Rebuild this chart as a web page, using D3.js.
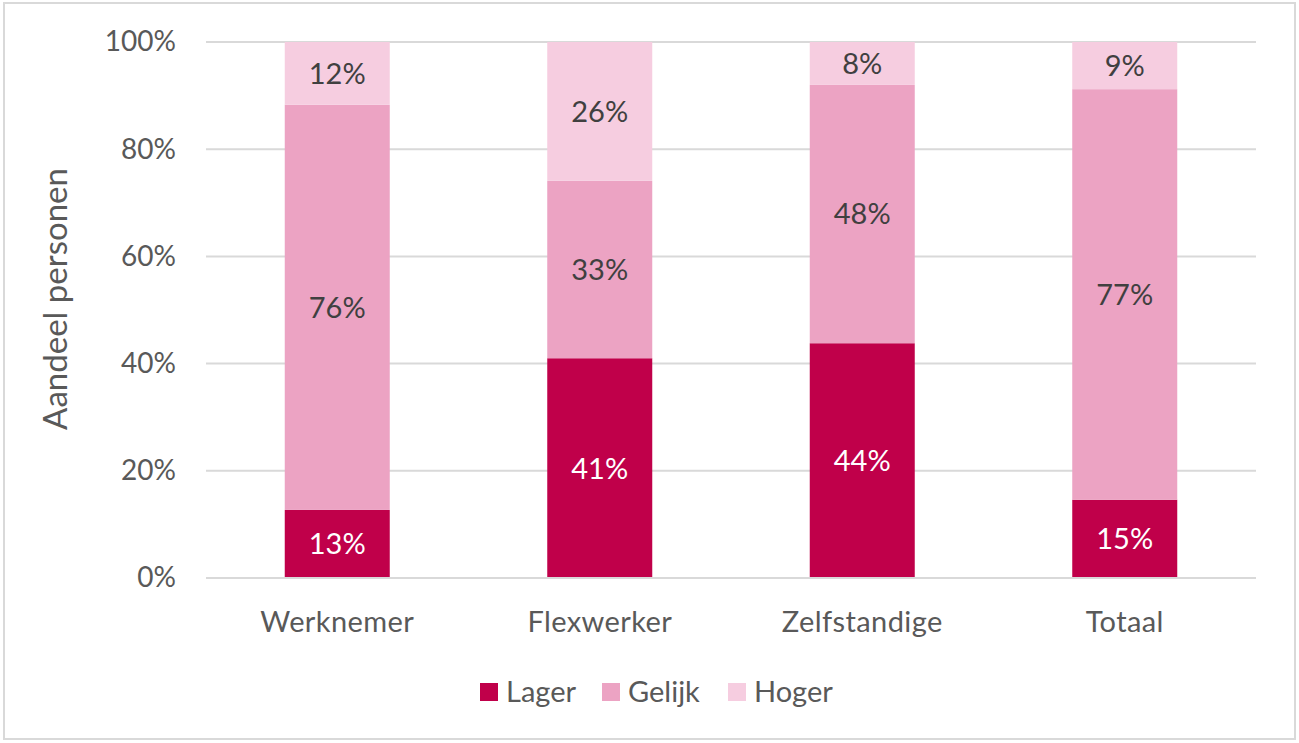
<!DOCTYPE html>
<html><head><meta charset="utf-8">
<script src="https://cdn.jsdelivr.net/npm/d3@7"></script>
<style>
body{margin:0;background:#fff;}
svg text{font-family:Lato,"Open Sans",sans-serif;}
</style></head>
<body><svg id="c" width="1299" height="743"></svg>
<script>
const categories = ["Werknemer","Flexwerker","Zelfstandige","Totaal"];
const seriesNames = ["Lager","Gelijk","Hoger"];
const lager  = [12.7, 41.0, 43.8, 14.6];
const gelijk = [75.6, 33.1, 48.2, 76.6];
const hoger  = [11.7, 25.9, 8.0, 8.8];
const yTicks = [0,20,40,60,80,100];
const colors = ["#C0004A","#ECA3C3","#F6CDE0"];
const labelColors = ["#FFFFFF","#404040","#404040"];

const rows = categories.map((c,i)=>({cat:c, Lager:lager[i], Gelijk:gelijk[i], Hoger:hoger[i]}));
const svg = d3.select("#c");
svg.append("rect").attr("x",4).attr("y",3).attr("width",1291).attr("height",736)
  .attr("fill","#fff").attr("stroke","#D9D9D9").attr("stroke-width",2);

const x = d3.scaleBand().domain(categories).range([206,1256]).paddingInner(0.6).paddingOuter(0.3);
const y = d3.scaleLinear().domain([0,100]).range([578,42]);

// gridlines
svg.append("g").selectAll("line").data(yTicks.filter(t=>t>0)).join("line")
  .attr("x1",206).attr("x2",1256).attr("y1",d=>y(d)).attr("y2",d=>y(d))
  .attr("stroke","#D9D9D9").attr("stroke-width",2);

// y axis labels
const yAxis = d3.axisLeft(y).tickValues(yTicks).tickFormat(d=>d+"%").tickSize(0).tickPadding(0);
const ya = svg.append("g").attr("transform","translate(176,0)").call(yAxis);
ya.select(".domain").remove();
ya.selectAll("text").attr("font-size",28).attr("fill","#595959").attr("font-family","Lato");

const stack = d3.stack().keys(seriesNames)(rows);
const g = svg.append("g");
stack.forEach((s,si)=>{
  g.selectAll(null).data(s).join("rect")
    .attr("x",d=>x(d.data.cat)).attr("width",x.bandwidth())
    .attr("y",d=>y(d[1])).attr("height",d=>y(d[0])-y(d[1]))
    .attr("fill",colors[si]);
  g.selectAll(null).data(s).join("text")
    .attr("x",d=>x(d.data.cat)+x.bandwidth()/2)
    .attr("y",d=>(y(d[0])+y(d[1]))/2)
    .attr("dy","0.36em").attr("text-anchor","middle")
    .attr("font-size",29).attr("fill",labelColors[si])
    .text(d=>Math.round(d[1]-d[0])+"%");
});

// x axis
svg.append("line").attr("x1",206).attr("x2",1256).attr("y1",y(0)).attr("y2",y(0))
  .attr("stroke","#D9D9D9").attr("stroke-width",2);
const xAxis = d3.axisBottom(x).tickSize(0).tickPadding(0);
const xa = svg.append("g").attr("transform","translate(0,632)").call(xAxis);
xa.select(".domain").remove();
xa.selectAll("text").attr("font-size",29).attr("letter-spacing","0.4px").attr("fill","#595959").attr("font-family","Lato").attr("dy","0");

// y title
svg.append("text").attr("transform","translate(67,299) rotate(-90)")
  .attr("text-anchor","middle").attr("font-size",33).attr("fill","#595959")
  .text("Aandeel personen");

// legend
const legX = [480,602,728];
const lg = svg.append("g");
seriesNames.forEach((n,i)=>{
  lg.append("rect").attr("x",legX[i]).attr("y",683).attr("width",18).attr("height",18).attr("fill",colors[i]);
  lg.append("text").attr("x",legX[i]+26).attr("y",692).attr("dy","0.36em")
    .attr("font-size",29).attr("fill","#595959").text(n);
});
</script></body></html>
